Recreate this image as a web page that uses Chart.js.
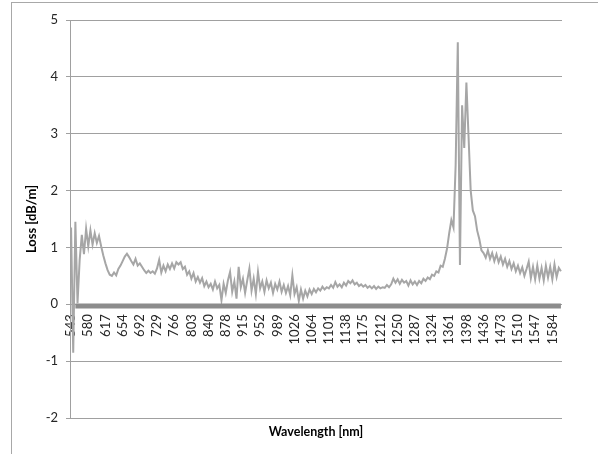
<!DOCTYPE html>
<html>
<head>
<meta charset="utf-8">
<script src="https://cdn.jsdelivr.net/npm/chart.js@4.4.1/dist/chart.umd.min.js"></script>
<style>
  html, body { margin: 0; padding: 0; background: #ffffff; overflow: hidden; }
  #wrap { position: relative; width: 598px; height: 454px; }
  #frame { position: absolute; left: 11px; top: 2px; width: 700px; height: 600px;
           border-left: 1px solid #a8a8a8; border-top: 1px solid #a8a8a8; }
  #c { position: absolute; left: 0; top: 0; }
</style>
</head>
<body>
<div id="wrap">
  <div id="frame"></div>
  <canvas id="c" width="598" height="454"></canvas>
</div>
<script>
// Tick labels shown on the wavelength axis (every 8th sample)
const tickLabels = [543, 580, 617, 654, 692, 729, 766, 803, 840, 878, 915, 952, 989, 1026,
  1064, 1101, 1138, 1175, 1212, 1250, 1287, 1324, 1361, 1398, 1436, 1473, 1510, 1547, 1584];

// Loss [dB/m], one value per sample
const lossValues = [
  1.35, -0.85, 1.45, 0.02, 0.78, 1.22, 0.88, 1.33, 1.02, 1.30,
  1.05, 1.25, 1.08, 1.20, 1.02, 0.86, 0.72, 0.60, 0.52, 0.50,
  0.56, 0.51, 0.62, 0.68, 0.76, 0.84, 0.89, 0.83, 0.76, 0.70,
  0.80, 0.68, 0.72, 0.66, 0.60, 0.55, 0.59, 0.55, 0.58, 0.54,
  0.63, 0.78, 0.56, 0.68, 0.58, 0.70, 0.62, 0.72, 0.63, 0.74,
  0.70, 0.74, 0.62, 0.66, 0.52, 0.58, 0.45, 0.55, 0.40, 0.48,
  0.38, 0.46, 0.32, 0.40, 0.30, 0.36, 0.26, 0.40, 0.28, 0.34,
  0.07, 0.36, 0.20, 0.42, 0.57, 0.22, 0.40, 0.10, 0.66, 0.30,
  0.45, 0.20, 0.42, 0.63, 0.24, 0.45, 0.18, 0.57, 0.28, 0.40,
  0.22, 0.42, 0.28, 0.38, 0.20, 0.36, 0.26, 0.40, 0.22, 0.34,
  0.20, 0.32, 0.16, 0.51, 0.18, 0.30, 0.06, 0.26, 0.10, 0.24,
  0.14, 0.26, 0.18, 0.27, 0.21, 0.28, 0.24, 0.31, 0.26, 0.30,
  0.28, 0.34, 0.29, 0.39, 0.31, 0.35, 0.30, 0.38, 0.33, 0.41,
  0.37, 0.42, 0.35, 0.38, 0.32, 0.35, 0.31, 0.34, 0.29, 0.32,
  0.28, 0.32, 0.27, 0.31, 0.28, 0.30, 0.29, 0.34, 0.30, 0.35,
  0.45, 0.38, 0.44, 0.36, 0.43, 0.38, 0.41, 0.33, 0.42, 0.35,
  0.40, 0.34, 0.41, 0.37, 0.45, 0.41, 0.47, 0.44, 0.52, 0.50,
  0.58, 0.56, 0.68, 0.66, 0.80, 0.98, 1.25, 1.48, 1.35, 2.45,
  4.61, 0.69, 3.50, 2.75, 3.90, 2.95, 2.00, 1.65, 1.55, 1.30,
  1.15, 0.95, 0.90, 0.82, 0.95, 0.80, 0.90, 0.76, 0.88, 0.74,
  0.84, 0.70, 0.80, 0.66, 0.76, 0.62, 0.72, 0.58, 0.68, 0.55,
  0.65, 0.50, 0.62, 0.75, 0.46, 0.66, 0.44, 0.68, 0.45, 0.64,
  0.42, 0.68, 0.47, 0.66, 0.44, 0.70, 0.48, 0.64, 0.58
];

// Second (baseline) series, drawn as the thick dark band near zero
const baselineValue = -0.03;
const baselineStart = 2;

const yTicks = { min: -2, max: 5, step: 1 };

const categories = lossValues.map((_, i) => (i % 8 === 0 && tickLabels[i / 8] !== undefined) ? String(tickLabels[i / 8]) : '');
const baselineValues = lossValues.map((_, i) => i >= baselineStart ? baselineValue : null);

const FONT = "Lato, 'Open Sans', sans-serif";

new Chart(document.getElementById('c'), {
  type: 'line',
  data: {
    labels: categories,
    datasets: [
      {
        label: 'Baseline',
        data: baselineValues,
        xAxisID: 'x', yAxisID: 'y',
        borderColor: '#8c8c8c',
        borderWidth: 5,
        pointRadius: 0,
        tension: 0,
        spanGaps: false
      },
      {
        label: 'Loss',
        data: lossValues,
        xAxisID: 'x', yAxisID: 'y',
        borderColor: '#a6a6a6',
        borderWidth: 2,
        pointRadius: 0,
        tension: 0
      }
    ]
  },
  options: {
    responsive: false,
    devicePixelRatio: 1,
    animation: false,
    events: [],
    layout: { padding: { left: 0, right: 36, top: 20, bottom: 0 } },
    plugins: { legend: { display: false }, tooltip: { enabled: false } },
    scales: {
      x: {
        type: 'category',
        position: { y: 0 },
        offset: true,
        grid: { display: false, drawTicks: false },
        border: { display: false },
        ticks: {
          autoSkip: false,
          minRotation: 90,
          maxRotation: 90,
          padding: 10,
          color: '#262626',
          font: { family: FONT, size: 13 }
        }
      },
      x2: {
        type: 'category',
        position: 'bottom',
        grid: { display: false, drawTicks: false },
        border: { display: false },
        ticks: { display: false },
        title: {
          display: true,
          text: 'Wavelength [nm]',
          color: '#000000',
          font: { family: FONT, size: 12.5, weight: 'bold' },
          padding: { top: 6, bottom: 15 }
        }
      },
      y: {
        type: 'linear',
        position: 'left',
        min: yTicks.min,
        max: yTicks.max,
        afterFit: (s) => { s.width = 70; },
        ticks: {
          stepSize: yTicks.step,
          padding: 8,
          color: '#262626',
          font: { family: FONT, size: 13 }
        },
        grid: {
          color: '#a0a0a0',
          lineWidth: 1,
          drawTicks: true,
          tickLength: 4
        },
        border: { display: true, color: '#a0a0a0', width: 1 },
        title: {
          display: true,
          text: 'Loss [dB/m]',
          color: '#000000',
          font: { family: FONT, size: 13, weight: 'bold' },
          padding: { top: 24, bottom: 0 }
        }
      }
    }
  }
});
</script>
</body>
</html>
